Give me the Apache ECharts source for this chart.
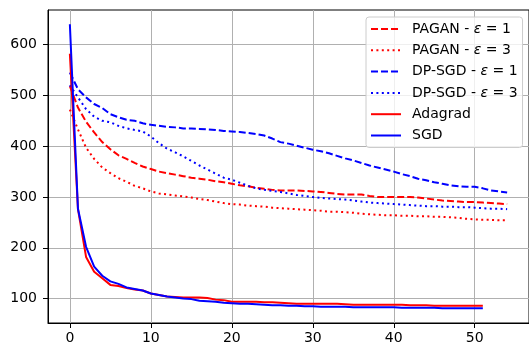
<!DOCTYPE html>
<html>
<head>
<meta charset="utf-8">
<script src="https://cdn.jsdelivr.net/npm/echarts@6/dist/echarts.min.js"></script>
<style>
  html, body { margin: 0; padding: 0; background: #fff; }
  #chart { width: 529px; height: 347px; }
</style>
</head>
<body>
<div id="chart"></div>
<script>
// epochs are just 0..n-1
const xTicks = [0, 10, 20, 30, 40, 50];
const yTicks = [100, 200, 300, 400, 500, 600];

const paganEps1 = [518, 476, 448, 427, 408, 394, 382, 375, 367, 360, 355, 350, 347, 344, 341, 338, 336, 334, 331, 329,
  326, 323, 321, 318, 316, 314, 313, 313, 313, 312, 311, 310, 308, 306, 305, 305, 305, 302, 300, 300,
  300, 300, 300, 299, 297, 295, 293, 292, 291, 290, 290, 289, 288, 287, 286];
const paganEps3 = [472, 433, 397, 375, 358, 347, 337, 330, 322, 317, 311, 307, 305, 303, 301, 299, 296, 294, 291, 288,
  286, 285, 283, 282, 281, 279, 278, 277, 276, 275, 274, 273, 271, 271, 270, 269, 267, 266, 265, 264,
  264, 263, 263, 262, 262, 261, 261, 260, 259, 257, 256, 255, 255, 254, 254];
const dpsgdEps1 = [545, 512, 496, 483, 475, 463, 457, 452, 450, 445, 442, 440, 438, 437, 435, 435, 434, 433, 432, 430,
  429, 428, 426, 424, 421, 415, 408, 405, 401, 397, 393, 390, 386, 381, 376, 372, 367, 362, 358, 354,
  350, 345, 341, 336, 333, 329, 326, 323, 321, 320, 320, 317, 313, 311, 309];
const dpsgdEps3 = [520, 496, 473, 458, 450, 447, 440, 435, 432, 429, 419, 406, 395, 388, 380, 371, 362, 354, 346, 338,
  334, 328, 322, 317, 314, 312, 310, 307, 304, 302, 300, 298, 297, 296, 295, 293, 291, 289, 288, 287,
  286, 285, 284, 283, 282, 282, 281, 281, 280, 280, 279, 278, 277, 277, 276];
const adagrad = [582, 276, 182, 153, 140, 127, 125, 121, 118, 116, 110, 107, 104, 103, 102, 102, 102, 101, 98, 97,
  94, 94, 94, 94, 93, 93, 92, 91, 90, 90, 90, 90, 90, 90, 89, 88, 88, 88, 88, 88,
  88, 88, 87, 87, 87, 86, 86, 86, 86, 86, 86, 86];
const sgd = [640, 277, 202, 163, 145, 134, 129, 122, 119, 116, 110, 107, 104, 102, 100, 99, 96, 95, 94, 92,
  91, 90, 90, 89, 88, 87, 87, 86, 86, 85, 85, 84, 84, 84, 84, 83, 83, 83, 83, 83,
  83, 82, 82, 82, 82, 82, 81, 81, 81, 81, 81, 81];

const FONT = "DejaVu Sans";

function pairs(arr) {
  return arr.map((v, i) => [i, v]);
}

function lineSeries(name, values, color, type) {
  return {
    name: name,
    type: "line",
    data: pairs(values),
    symbol: "none",
    showSymbol: false,
    animation: false,
    lineStyle: { color: color, width: 2, type: type },
    itemStyle: { color: color },
  };
}

const dashed = [7, 3];
const dotted = [2, 3.4];

const chart = echarts.init(document.getElementById("chart"));
chart.setOption({
  animation: false,
  grid: { left: 48, top: 10, right: -2, bottom: 24, show: true, borderColor: "#000", borderWidth: 1 },
  legend: {
    orient: "vertical",
    left: 366,
    top: 17,
    padding: [5, 5, 5, 4],
    itemWidth: 30,
    itemHeight: 14,
    itemGap: 7.3,
    backgroundColor: "rgba(255,255,255,0.8)",
    borderColor: "#cccccc",
    borderWidth: 1,
    borderRadius: 3,
    itemStyle: { opacity: 0 },
    textStyle: {
      fontFamily: FONT,
      fontSize: 14,
      lineHeight: 14,
      color: "#000",
      rich: {
        s: { width: 6, lineHeight: 14 },
        t: { fontFamily: FONT, fontSize: 14, lineHeight: 14, color: "#000" },
        e: { fontFamily: FONT, fontSize: 14, lineHeight: 14, color: "#000", fontStyle: "italic" },
      },
    },
    formatter: function (name) {
      const p = name.split("ε");
      if (p.length < 2) return "{s|}{t|" + name + "}";
      return "{s|}{t|" + p[0] + "}{e|ε}{t|" + p[1] + "}";
    },
  },
  xAxis: {
    type: "value",
    min: -2.7,
    max: 56.7,
    axisLine: { show: true, onZero: false, lineStyle: { color: "#000", width: 1 } },
    axisTick: { show: true, length: 5, customValues: xTicks, lineStyle: { color: "#000" } },
    axisLabel: { customValues: xTicks, margin: 8, fontFamily: FONT, fontSize: 14, color: "#000" },
    splitLine: { show: true, lineStyle: { color: "#b0b0b0", width: 1 } },
  },
  yAxis: {
    type: "value",
    min: 52,
    max: 668,
    axisLine: { show: true, onZero: false, lineStyle: { color: "#000", width: 1 } },
    axisTick: { show: true, length: 5, customValues: yTicks, lineStyle: { color: "#000" } },
    axisLabel: { customValues: yTicks, margin: 11, fontFamily: FONT, fontSize: 14, color: "#000" },
    splitLine: { show: true, lineStyle: { color: "#b0b0b0", width: 1 } },
  },
  series: [
    lineSeries("PAGAN - ε = 1", paganEps1, "#ff0000", dashed),
    lineSeries("PAGAN - ε = 3", paganEps3, "#ff0000", dotted),
    lineSeries("DP-SGD - ε = 1", dpsgdEps1, "#0000ff", dashed),
    lineSeries("DP-SGD - ε = 3", dpsgdEps3, "#0000ff", dotted),
    lineSeries("Adagrad", adagrad, "#ff0000", "solid"),
    lineSeries("SGD", sgd, "#0000ff", "solid"),
  ],
});
</script>
</body>
</html>
